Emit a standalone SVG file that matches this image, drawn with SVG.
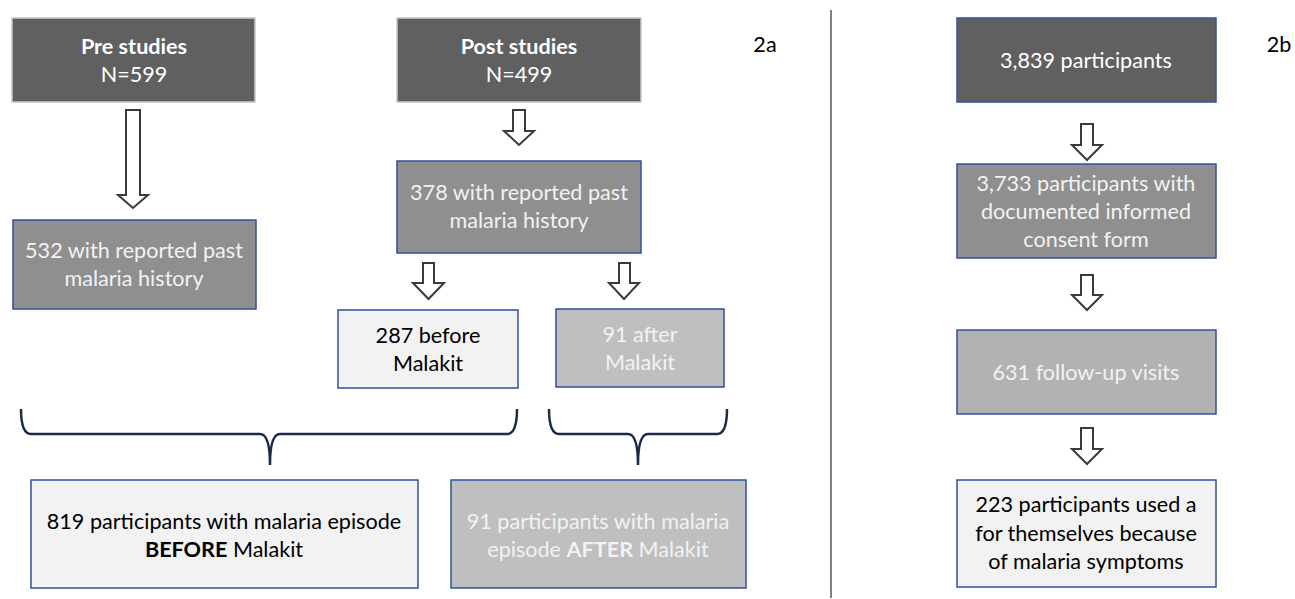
<svg xmlns="http://www.w3.org/2000/svg" width="1295" height="599" viewBox="0 0 1295 599">
<style>
text{font-family:Lato,"Open Sans","Liberation Sans",sans-serif;font-size:21.6px;text-anchor:middle}
.w{fill:#ffffff}.lw{fill:#f2f2f2}.k{fill:#000000}.b{font-weight:bold}
.dark{fill:#606060;stroke:#c8c8c8;stroke-width:1.5}
.darkb{fill:#606060;stroke:#2f52a0;stroke-width:1.5}
.mid{fill:#8f8f8f;stroke:#2f52a0;stroke-width:1.5}
.lg{fill:#bfbfbf;stroke:#2f52a0;stroke-width:1.5}
.lg2{fill:#b2b2b2;stroke:#2f52a0;stroke-width:1.5}
.pale{fill:#f2f2f2;stroke:#2f52a0;stroke-width:1.5}
.arr{fill:#ffffff;stroke:#3a3a3a;stroke-width:2;stroke-linejoin:miter}
.brace{fill:none;stroke:#1c2a48;stroke-width:2.5}
</style>
<rect width="1295" height="599" fill="#ffffff"/>
<line x1="831" y1="10" x2="831" y2="598" stroke="#808080" stroke-width="2"/>
<text x="765" y="52" class="k">2a</text>
<text x="1279" y="52" class="k">2b</text>
<g id="pre"><rect x="12" y="18" width="243" height="84" class="dark"/><text x="134" y="54" class="w b">Pre studies</text><text x="134" y="82" class="w">N=599</text></g>
<g id="post"><rect x="397" y="18" width="244" height="84" class="dark"/><text x="519" y="54" class="w b">Post studies</text><text x="519" y="82" class="w">N=499</text></g>
<g id="pre532"><rect x="13" y="220" width="243" height="89" class="mid"/><text x="134" y="258" class="lw">532 with reported past</text><text x="134" y="286" class="lw">malaria history</text></g>
<g id="post378"><rect x="397" y="161" width="244" height="92" class="mid"/><text x="519" y="200" class="lw">378 with reported past</text><text x="519" y="228" class="lw">malaria history</text></g>
<g id="before287"><rect x="338" y="310" width="180" height="78" class="pale"/><text x="428" y="343" class="k">287 before</text><text x="428" y="371" class="k">Malakit</text></g>
<g id="after91"><rect x="556" y="309" width="168" height="78" class="lg"/><text x="640" y="342" class="lw">91 after</text><text x="640" y="370" class="lw">Malakit</text></g>
<g id="before819"><rect x="31" y="480" width="387" height="108" class="pale"/><text x="224" y="529" class="k">819 participants with malaria episode</text><text x="224" y="557" class="k"><tspan class="b">BEFORE</tspan> Malakit</text></g>
<g id="after91b"><rect x="451" y="480" width="295" height="108" class="lg"/><text x="598" y="529" class="lw">91 participants with malaria</text><text x="598" y="557" class="lw">episode <tspan class="b">AFTER</tspan> Malakit</text></g>
<g id="p3839"><rect x="957" y="18" width="259" height="84" class="darkb"/><text x="1086" y="68" class="w">3,839 participants</text></g>
<g id="p3733"><rect x="957" y="164" width="259" height="94" class="mid"/><text x="1086" y="191" class="lw">3,733 participants with</text><text x="1086" y="219" class="lw">documented informed</text><text x="1086" y="247" class="lw">consent form</text></g>
<g id="v631"><rect x="957" y="330" width="259" height="84" class="lg2"/><text x="1086" y="380" class="lw">631 follow-up visits</text></g>
<g id="p223"><rect x="957" y="480" width="259" height="107" class="pale"/><text x="1086" y="512" class="k">223 participants used a</text><text x="1086" y="541" class="k">for themselves because</text><text x="1086" y="569" class="k">of malaria symptoms</text></g>
<g id="connectors">
<path class="arr" d="M126,110 H140 V195 H148 L133,208 L118,195 H126 Z"/>
<path class="arr" d="M513,110 H525 V131 H534 L519,145 L504,131 H513 Z"/>
<path class="arr" d="M423,263 H434 V283 H444 L428.5,299 L413,283 H423 Z"/>
<path class="arr" d="M619,263 H630 V283 H639 L624,299 L609,283 H619 Z"/>
<path class="arr" d="M1081,124 H1093 V145 H1102 L1087,160 L1072,145 H1081 Z"/>
<path class="arr" d="M1081,275 H1093 V295 H1102 L1087,310 L1072,295 H1081 Z"/>
<path class="arr" d="M1081,428 H1093 V449 H1102 L1087,464 L1072,449 H1081 Z"/>
<path class="brace" d="M21,409 Q21,434 31,434 L260,434 Q270,434 270,465 Q270,434 280,434 L507,434 Q517,434 517,409"/>
<path class="brace" d="M549,409 Q549,434 559,434 L628,434 Q638,434 638,465 Q638,434 648,434 L717,434 Q727,434 727,409"/>
</g>
</svg>
